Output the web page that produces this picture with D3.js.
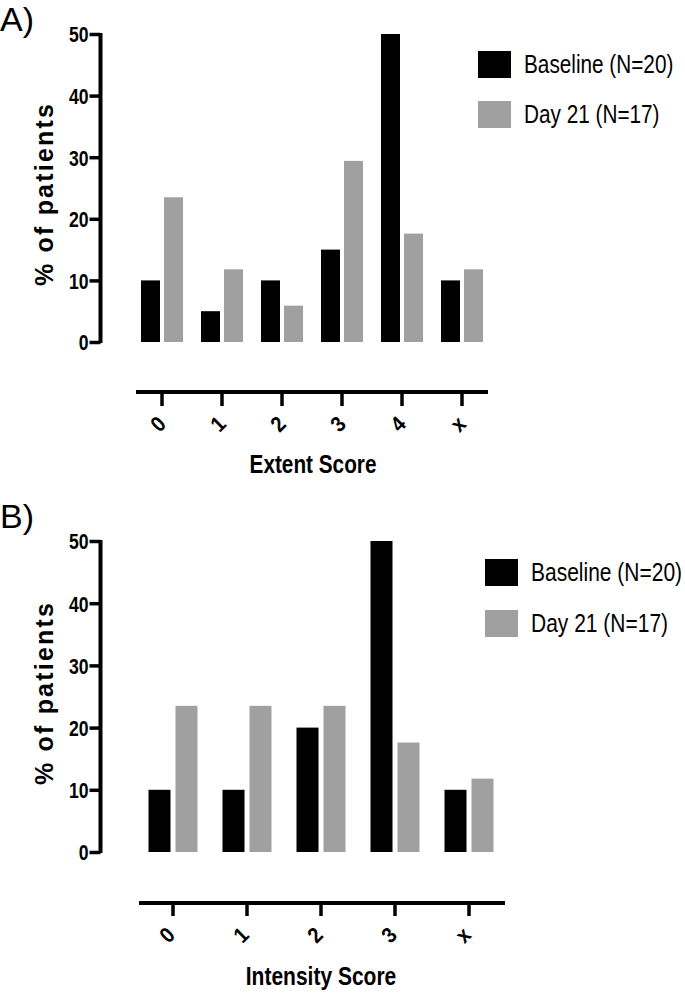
<!DOCTYPE html>
<html>
<head>
<meta charset="utf-8">
<script src="https://cdn.jsdelivr.net/npm/d3@7"></script>
<style>
  html, body { margin: 0; padding: 0; background: #fff; }
  svg { display: block; }
  text { font-family: "Liberation Sans", Arial, sans-serif; }
</style>
</head>
<body>
<svg id="chart" width="685" height="994"></svg>
<script>
// ---- data ----
const seriesNames = ["Baseline (N=20)", "Day 21 (N=17)"];
const seriesColors = ["#000000", "#a0a0a0"];

const extentCategories = ["0", "1", "2", "3", "4", "x"];
const extentBaseline = [10, 5, 10, 15, 50, 10];
const extentDay21 = [23.5, 11.8, 5.9, 29.4, 17.6, 11.8];

const intensityCategories = ["0", "1", "2", "3", "x"];
const intensityBaseline = [10, 10, 20, 50, 10];
const intensityDay21 = [23.5, 23.5, 23.5, 17.6, 11.8];

const yTicks = [0, 10, 20, 30, 40, 50];
const yTitle = "% of patients";

const svg = d3.select("#chart");
const NARROW = 0.8;

function drawPanel(cfg) {
  const g = svg.append("g");
  const y = d3.scaleLinear().domain([0, 50]).range([cfg.yBottom, cfg.yTop]);
  const x0 = d3.scaleBand().domain(cfg.categories).range(cfg.xRange).padding(0);
  const x1 = d3.scaleBand().domain(seriesNames).range([-cfg.groupHalf, cfg.groupHalf]).paddingInner(cfg.innerPad);
  const rows = cfg.categories.map((c, i) => ({ cat: c, vals: [cfg.baseline[i], cfg.day21[i]] }));

  // bars
  const grp = g.selectAll("g.grp").data(rows).join("g")
    .attr("transform", d => `translate(${x0(d.cat) + x0.bandwidth() / 2},0)`);
  grp.selectAll("rect").data(d => d.vals.map((v, k) => ({ v, k }))).join("rect")
    .attr("x", d => x1(seriesNames[d.k]))
    .attr("width", x1.bandwidth())
    .attr("y", d => y(d.v))
    .attr("height", d => y(0) - y(d.v))
    .attr("fill", d => seriesColors[d.k]);

  // y axis
  const yAxis = d3.axisLeft(y).tickValues(yTicks).tickSize(11).tickPadding(1).tickSizeOuter(0);
  const ya = g.append("g").attr("transform", `translate(${cfg.yAxisX},0)`).call(yAxis);
  ya.select(".domain").attr("stroke", "#000").attr("stroke-width", 4)
    .attr("d", `M0,${cfg.yTop - 1}V${cfg.yBottom + 1}`);
  ya.selectAll(".tick line").attr("stroke", "#000").attr("stroke-width", 3.5);
  ya.selectAll(".tick text").attr("font-size", 22).attr("font-weight", "bold")
    .attr("font-family", "Liberation Sans, Arial, sans-serif")
    .attr("fill", "#000").attr("x", 0).attr("dy", "0.36em")
    .attr("transform", `translate(-12,0) scale(${NARROW},1)`);

  // x axis (offset below)
  const xAxis = d3.axisBottom(x0).tickSize(cfg.xTickLen).tickSizeOuter(0).tickFormat(d => d);
  const xa = g.append("g").attr("transform", `translate(0,${cfg.xAxisY})`).call(xAxis);
  xa.select(".domain").attr("stroke", "#000").attr("stroke-width", 4)
    .attr("d", `M${cfg.xLineStart},0H${cfg.xLineEnd}`);
  xa.selectAll(".tick line").attr("stroke", "#000").attr("stroke-width", 3.5);
  xa.selectAll(".tick text").attr("font-size", 22).attr("font-weight", "bold")
    .attr("font-family", "Liberation Sans, Arial, sans-serif")
    .attr("fill", "#000").attr("text-anchor", "middle").attr("y", null).attr("dy", "0.35em")
    .attr("transform", `translate(${cfg.labelDx},${cfg.labelDy}) rotate(-45) scale(0.9,1)`);

  // x title
  g.append("text")
    .attr("transform", `translate(${cfg.xTitleX},${cfg.xTitleY}) scale(${cfg.xTitleScale},1)`)
    .attr("text-anchor", "middle").attr("font-size", 25).attr("font-weight", "bold")
    .text(cfg.xTitle);

  // y title
  g.append("text")
    .attr("transform", `translate(${cfg.yTitleX},${cfg.yTitleY}) rotate(-90)`)
    .attr("text-anchor", "middle").attr("font-size", 25).attr("font-weight", "bold")
    .attr("letter-spacing", 2.2).text(yTitle);

  // panel letter
  g.append("text").attr("x", cfg.letterX).attr("y", cfg.letterY)
    .attr("font-size", 34).text(cfg.letter);

  // legend
  const lg = g.append("g");
  seriesNames.forEach((s, k) => {
    lg.append("rect").attr("x", cfg.legX).attr("y", cfg.legY[k]).attr("width", 33).attr("height", 27)
      .attr("fill", seriesColors[k]);
    lg.append("text")
      .attr("transform", `translate(${cfg.legX + 46},${cfg.legY[k] + 13.5}) scale(${cfg.legScale},1)`)
      .attr("dy", "0.35em").attr("font-size", 25)
      .text(s);
  });
}

drawPanel({
  letter: "A)", letterX: 0, letterY: 30.5,
  categories: extentCategories, baseline: extentBaseline, day21: extentDay21,
  yTop: 34, yBottom: 342, yAxisX: 100.5,
  xRange: [132, 492], groupHalf: 21, innerPad: 0.174,
  xAxisY: 392, xTickLen: 14, xLineStart: 136, xLineEnd: 488,
  labelDx: -4, labelDy: 32,
  xTitle: "Extent Score", xTitleX: 313, xTitleY: 473, xTitleScale: 0.83,
  yTitleX: 53, yTitleY: 194,
  legX: 478, legY: [51, 101], legScale: 0.83
});

drawPanel({
  letter: "B)", letterX: 0, letterY: 528,
  categories: intensityCategories, baseline: intensityBaseline, day21: intensityDay21,
  yTop: 541, yBottom: 852, yAxisX: 100.5,
  xRange: [136, 506], groupHalf: 24.5, innerPad: 0.185,
  xAxisY: 903, xTickLen: 13, xLineStart: 139, xLineEnd: 505,
  labelDx: -6, labelDy: 32,
  xTitle: "Intensity Score", xTitleX: 321, xTitleY: 985, xTitleScale: 0.84,
  yTitleX: 53, yTitleY: 693,
  legX: 485, legY: [559, 610], legScale: 0.84
});
</script>
</body>
</html>
